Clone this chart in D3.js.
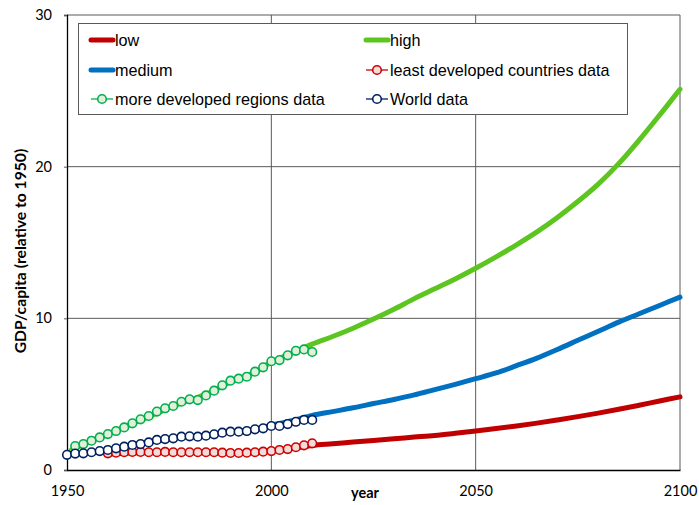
<!DOCTYPE html>
<html>
<head>
<meta charset="utf-8">
<script src="https://cdn.jsdelivr.net/npm/d3@7"></script>
<style>
  body { margin: 0; background: #fff; }
  svg { display: block; }
</style>
</head>
<body>
<div id="chart"></div>
<script>
// projection lines (every 5 years)
var lineYears = [1950,1955,1960,1965,1970,1975,1980,1985,1990,1995,2000,2005,2010,2015,2020,2025,2030,2035,2040,2045,2050,2055,2060,2065,2070,2075,2080,2085,2090,2095,2100];
var highYears = [1951,1955,1960,1965,1970,1975,1980,1985,1990,1995,2000,2005,2010,2015,2020,2025,2030,2035,2040,2045,2050,2055,2060,2065,2070,2075,2080,2085,2090,2095,2100];
var lowYears = [1960,1965,1970,1975,1980,1985,1990,1995,2000,2005,2010,2015,2020,2025,2030,2035,2040,2045,2050,2055,2060,2065,2070,2075,2080,2085,2090,2095,2100];

var lowValues = [1.05,1.12,1.15,1.15,1.15,1.15,1.13,1.15,1.25,1.42,1.62,1.73,1.84,1.95,2.06,2.17,2.28,2.42,2.57,2.73,2.9,3.09,3.3,3.52,3.75,4.0,4.27,4.55,4.82];
var mediumValues = [1.0,1.15,1.32,1.6,1.85,2.05,2.2,2.32,2.5,2.65,2.95,3.25,3.6,3.85,4.1,4.38,4.65,4.95,5.3,5.65,6.02,6.4,6.88,7.38,7.95,8.55,9.15,9.75,10.3,10.85,11.4];
var highValues = [1.3,1.8,2.35,2.95,3.5,4.1,4.6,5.1,5.8,6.3,7.1,7.7,8.3,8.8,9.35,9.95,10.6,11.3,11.95,12.6,13.3,14.05,14.85,15.7,16.65,17.7,18.85,20.2,21.75,23.4,25.1];

// historical data (every 2 years)
var worldYears = [1950,1952,1954,1956,1958,1960,1962,1964,1966,1968,1970,1972,1974,1976,1978,1980,1982,1984,1986,1988,1990,1992,1994,1996,1998,2000,2002,2004,2006,2008,2010];
var worldValues = [1.0,1.08,1.1,1.17,1.25,1.32,1.43,1.54,1.65,1.71,1.82,1.98,2.04,2.09,2.2,2.22,2.2,2.26,2.35,2.46,2.53,2.53,2.57,2.68,2.75,2.9,2.9,3.03,3.18,3.3,3.3];

var moreYears = [1952,1954,1956,1958,1960,1962,1964,1966,1968,1970,1972,1974,1976,1978,1980,1982,1984,1986,1988,1990,1992,1994,1996,1998,2000,2002,2004,2006,2008,2010];
var moreValues = [1.58,1.71,1.93,2.15,2.37,2.57,2.81,3.08,3.34,3.56,3.85,4.07,4.22,4.5,4.66,4.61,4.92,5.23,5.58,5.89,6.02,6.15,6.48,6.77,7.17,7.25,7.56,7.86,7.95,7.78];

var leastYears = [1960,1962,1964,1966,1968,1970,1972,1974,1976,1978,1980,1982,1984,1986,1988,1990,1992,1994,1996,1998,2000,2002,2004,2006,2008,2010];
var leastValues = [1.1,1.14,1.17,1.19,1.19,1.17,1.17,1.19,1.17,1.17,1.17,1.17,1.17,1.17,1.14,1.12,1.12,1.14,1.17,1.21,1.25,1.32,1.38,1.5,1.63,1.76];

var xTicks = [1950, 2000, 2050, 2100];
var yTicks = [0, 10, 20, 30];

function zip(xs, ys){
    return xs.map(function(x, i){ return {year: x, value: ys[i]}; });
}

var width = 699, height = 505;
var margin = {top: 15, right: 19, bottom: 35, left: 67};

var svg = d3.select("#chart").append("svg")
            .attr("width", width)
            .attr("height", height);

var x = d3.scaleLinear()
          .domain([1950, 2100])
          .range([margin.left, width - margin.right]);
var y = d3.scaleLinear()
          .domain([0, 30])
          .range([height - margin.bottom, margin.top]);

var tickFont = "Lato, 'Open Sans', sans-serif";

// grid
svg.append("g")
   .selectAll("line")
   .data(xTicks.slice(1))
   .enter().append("line")
   .attr("x1", d => x(d)).attr("x2", d => x(d))
   .attr("y1", y(0)).attr("y2", y(30))
   .attr("stroke", "#595959").attr("stroke-width", 1);
svg.append("g")
   .selectAll("line")
   .data(yTicks.slice(1))
   .enter().append("line")
   .attr("x1", x(1950)).attr("x2", x(2100))
   .attr("y1", d => y(d)).attr("y2", d => y(d))
   .attr("stroke", "#595959").attr("stroke-width", 1);

// axes
var xAxis = svg.append("g")
   .attr("transform", "translate(0," + y(0) + ")")
   .call(d3.axisBottom(x).tickValues(xTicks).tickFormat(d3.format("d")).tickSize(0).tickPadding(16));
var yAxis = svg.append("g")
   .attr("transform", "translate(" + x(1950) + ",0)")
   .call(d3.axisLeft(y).tickValues(yTicks).tickSize(3).tickPadding(12));
[xAxis, yAxis].forEach(function(a){
    a.select(".domain").attr("stroke", "#000").attr("stroke-width", 1.3);
    a.selectAll(".tick line").attr("stroke", "#595959");
    a.selectAll("text").style("font-family", tickFont).style("font-size", "14.5px").attr("fill", "#000");
});
xAxis.selectAll(".tick line").remove();

// axis titles
svg.append("text")
   .attr("x", 365)
   .attr("y", 498)
   .attr("text-anchor", "middle")
   .style("font-family", tickFont)
   .style("font-weight", "bold")
   .style("font-size", "14.5px")
   .text("year");
svg.append("text")
   .attr("transform", "translate(26," + 251 + ") rotate(-90)")
   .attr("text-anchor", "middle")
   .style("font-family", tickFont)
   .style("font-weight", "bold")
   .style("font-size", "15.7px")
   .text("GDP/capita (relative to 1950)");

// lines
var line = d3.line()
             .x(d => x(d.year))
             .y(d => y(d.value))
             .curve(d3.curveCatmullRom);

var lines = [
    {name: "low", data: zip(lowYears, lowValues), color: "#c00000"},
    {name: "high", data: zip(highYears, highValues), color: "#5cc520"},
    {name: "medium", data: zip(lineYears, mediumValues), color: "#0070c0"}
];
svg.append("g")
   .selectAll("path")
   .data(lines)
   .enter().append("path")
   .attr("d", d => line(d.data))
   .attr("fill", "none")
   .attr("stroke", d => d.color)
   .attr("stroke-width", 5)
   .attr("stroke-linecap", "round")
   .attr("stroke-linejoin", "round");

// markers
var markerSets = [
    {name: "least developed countries data", data: zip(leastYears, leastValues), stroke: "#d00000", fill: "#f2dcdb"},
    {name: "more developed regions data", data: zip(moreYears, moreValues), stroke: "#00b050", fill: "#e2efd9"},
    {name: "World data", data: zip(worldYears, worldValues), stroke: "#002060", fill: "#ffffff"}
];
markerSets.forEach(function(s){
    svg.append("g")
       .selectAll("circle")
       .data(s.data)
       .enter().append("circle")
       .attr("cx", d => x(d.year))
       .attr("cy", d => y(d.value))
       .attr("r", 4.3)
       .attr("fill", s.fill)
       .attr("stroke", s.stroke)
       .attr("stroke-width", 1.6);
});

// legend
var legend = svg.append("g");
legend.append("rect")
      .attr("x", 78.5).attr("y", 23.5)
      .attr("width", 549).attr("height", 91)
      .attr("fill", "#fff")
      .attr("stroke", "#595959");

var legendItems = [
    {label: "low", type: "line", color: "#c00000", col: 0, row: 0},
    {label: "high", type: "line", color: "#5cc520", col: 1, row: 0},
    {label: "medium", type: "line", color: "#0070c0", col: 0, row: 1},
    {label: "least developed countries data", type: "marker", color: "#d00000", fill: "#f2dcdb", col: 1, row: 1},
    {label: "more developed regions data", type: "marker", color: "#00b050", fill: "#e2efd9", col: 0, row: 2},
    {label: "World data", type: "marker", color: "#002060", fill: "#ffffff", col: 1, row: 2}
];
var colX = [91, 366], rowY = [40, 70, 99];
var items = legend.selectAll("g.item")
                  .data(legendItems)
                  .enter().append("g")
                  .attr("transform", d => "translate(" + colX[d.col] + "," + rowY[d.row] + ")");
items.append("line")
     .attr("x1", 0).attr("x2", 22)
     .attr("stroke", d => d.color)
     .attr("stroke-width", d => d.type == "line" ? 5 : 1.3)
     .attr("stroke-linecap", d => d.type == "line" ? "round" : "butt");
items.filter(d => d.type == "marker")
     .append("circle")
     .attr("cx", 11).attr("r", 4.3)
     .attr("fill", d => d.fill)
     .attr("stroke", d => d.color)
     .attr("stroke-width", 1.6);
items.append("text")
     .attr("x", 24)
     .attr("dy", "0.35em")
     .style("font-family", "'Liberation Sans', Arial, sans-serif")
     .style("font-size", "16.2px")
     .attr("fill", "#000")
     .text(d => d.label);
</script>
</body>
</html>
